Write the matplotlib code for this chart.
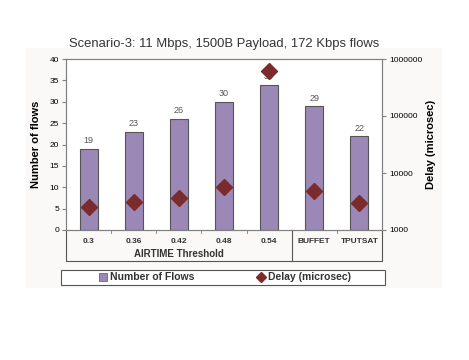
# Scenario-3 flows vs delay chart
import matplotlib
matplotlib.use("Agg")
import matplotlib.pyplot as plt
from matplotlib.patches import Rectangle
from matplotlib.lines import Line2D

plt.rcParams["font.family"] = ["Liberation Sans", "DejaVu Sans"]

categories = ["0.3", "0.36", "0.42", "0.48", "0.54", "BUFFET", "TPUTSAT"]
num_flows = [19, 23, 26, 30, 34, 29, 22]
delay_us = [2570, 3060, 3690, 5600, 624000, 4830, 2940]

bar_color = "#9B88B6"
marker_color = "#7B2B2B"
grid_gray = "#808080"

fig = plt.figure(figsize=(4.69, 3.6), dpi=100)
W, H = 469, 360

# light chart-area background
fig.add_artist(Rectangle((26 / W, 1 - 288 / H), (442 - 26) / W, (288 - 48) / H,
                         transform=fig.transFigure, facecolor="#FAF9F7",
                         edgecolor="none", zorder=-5))

ax = fig.add_axes([66 / W, 1 - 230 / H, (382 - 66) / W, (230 - 59) / H])
ax.set_facecolor("white")
x = list(range(len(categories)))
ax.bar(x, num_flows, width=0.4, color=bar_color, edgecolor="#555555", linewidth=0.8, zorder=2)
for xi, v in zip(x, num_flows):
    ax.text(xi, v + 0.8, str(v), ha="center", va="bottom", fontsize=6.5, color="#555555")
ax.set_xlim(-0.5, len(categories) - 0.5)
ax.set_ylim(0, 40)
ax.set_yticks(range(0, 41, 5))
ax.set_xticks([])
ax.tick_params(axis="y", labelsize=6, length=3, color=grid_gray, pad=2)
ax.set_ylabel("Number of flows", fontsize=8, fontweight="bold", labelpad=6)
for s in ax.spines.values():
    s.set_color(grid_gray)
    s.set_linewidth(0.8)

ax2 = ax.twinx()
ax2.set_yscale("log")
ax2.set_ylim(1000, 1000000)
ax2.plot(x, delay_us, linestyle="none", marker="D", markersize=8, color=marker_color,
         markeredgecolor=marker_color, zorder=3)
ax2.set_yticks([1000, 10000, 100000, 1000000])
ax2.set_yticklabels(["1000", "10000", "100000", "1000000"])
ax2.minorticks_off()
ax2.tick_params(axis="y", labelsize=6, length=3, color=grid_gray, pad=2)
ax2.set_ylabel("Delay (microsec)", fontsize=8, fontweight="bold", labelpad=3)
for s in ax2.spines.values():
    s.set_color(grid_gray)
    s.set_linewidth(0.8)

# category axis box below plot
tr = ax.get_xaxis_transform()
box_bottom = -0.181
for xi, lab in zip(x, categories):
    ax.text(xi, -0.065, lab, transform=tr, ha="center", va="center",
            fontsize=6, fontweight="bold", color="#333333")
for xb in [0.5, 1.5, 2.5, 3.5, 5.5]:
    ax.add_line(Line2D([xb, xb], [0, -0.02], transform=tr, color=grid_gray,
                       linewidth=0.6, clip_on=False))
ax.add_line(Line2D([4.5, 4.5], [0, box_bottom], transform=tr, color="#555555",
                   linewidth=0.8, clip_on=False))
ax.add_line(Line2D([-0.5, -0.5, 6.5, 6.5], [0, box_bottom, box_bottom, 0], transform=tr,
                   color="#555555", linewidth=0.8, clip_on=False))
ax.text(2, -0.14, "AIRTIME Threshold", transform=tr, ha="center", va="center",
        fontsize=7, fontweight="bold", color="#333333")

ax.set_title("Scenario-3: 11 Mbps, 1500B Payload, 172 Kbps flows", fontsize=9.4,
             color="#333333", pad=9)

# legend with a hand-drawn frame
fig.add_artist(Rectangle((61 / W, 1 - 285 / H), (385 - 61) / W, 15 / H,
                         transform=fig.transFigure, facecolor="white",
                         edgecolor="#555555", linewidth=0.8, zorder=1))
handles = [Rectangle((0, 0), 1, 1, facecolor=bar_color, edgecolor="#555555", linewidth=0.5),
           Line2D([], [], linestyle="none", marker="D", markersize=5, color=marker_color)]
leg = fig.legend(handles, ["Number of Flows", "Delay (microsec)"], ncol=2,
                 loc="center", bbox_to_anchor=(225 / W, 1 - 277.5 / H),
                 frameon=False, handlelength=0.8, handletextpad=0.3, borderpad=0.2,
                 columnspacing=6.0, prop={"weight": "bold", "size": 7.5})
leg.set_zorder(2)
for t in leg.get_texts():
    t.set_color("#333333")

fig.savefig("out.png", dpi=100)
